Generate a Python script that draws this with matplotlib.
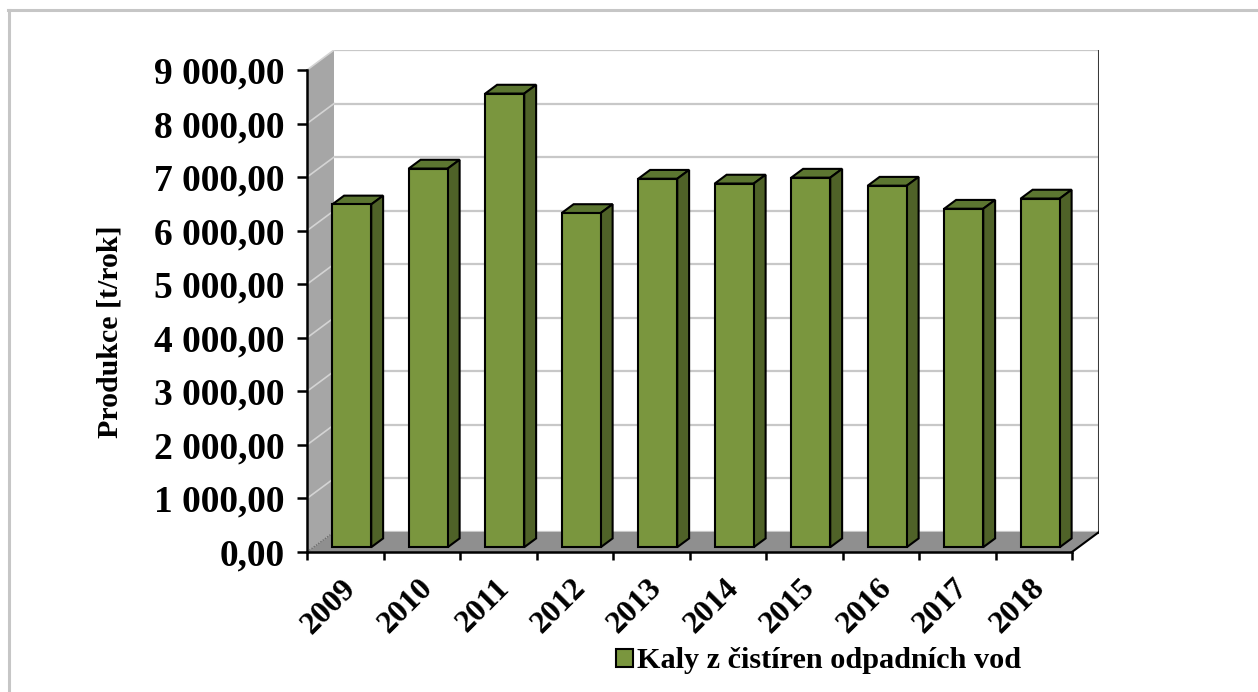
import matplotlib
matplotlib.use("Agg")
import matplotlib.pyplot as plt
from matplotlib.patches import Polygon
from matplotlib.lines import Line2D
from matplotlib.ticker import FuncFormatter
import numpy as np

# ---- data ----
years = ["2009", "2010", "2011", "2012", "2013", "2014", "2015", "2016", "2017", "2018"]
production = [6400, 7070, 8470, 6240, 6880, 6790, 6900, 6750, 6320, 6510]
series_name = "Kaly z čistíren odpadních vod"
y_label = "Produkce [t/rok]"
y_ticks = [0, 1000, 2000, 3000, 4000, 5000, 6000, 7000, 8000, 9000]

plt.rcParams['font.family'] = ['Liberation Serif', 'DejaVu Serif']
plt.rcParams['font.weight'] = 'bold'

W, H = 1258, 692
fig = plt.figure(figsize=(W / 100, H / 100), dpi=100)

# geometry (pixels)
front_left, front_right = 307, 1072
floor_y, top_y = 552, 70
depth_px_x, depth_px_y = 27, 20
n = len(years)
ymax = y_ticks[-1]
px_per_cat = (front_right - front_left) / n
px_per_val = (floor_y - top_y) / ymax
DX = depth_px_x / px_per_cat
DY = depth_px_y / px_per_val

ax = fig.add_axes([front_left / W, 1 - floor_y / H,
                   (front_right + depth_px_x - front_left) / W,
                   (floor_y - top_y + depth_px_y) / H])
ax.set_xlim(0, n + DX)
ax.set_ylim(0, ymax + DY)
ax.patch.set_visible(False)

# back wall gridlines
for v in y_ticks:
    ax.plot([DX, n + DX], [v + DY, v + DY], color='#c8c8c8', lw=1.6, zorder=1)
ax.plot([n + DX, n + DX], [DY, ymax + DY], color='#3a3a3a', lw=2.2, zorder=1.1)

# left wall
ax.add_patch(Polygon([(0, 0), (DX, DY), (DX, ymax + DY), (0, ymax)],
                     closed=True, fc='#a6a6a6', ec='none', zorder=1.2))
for v in y_ticks[1:]:
    ax.plot([0, DX], [v, v + DY], color='#d4d4d4', lw=1.2, zorder=1.25)
ax.plot([0, DX], [0, DY], color='#6e6e6e', lw=1.0, ls=(0, (1, 1)), zorder=1.4)

# floor
ax.add_patch(Polygon([(0, 0), (n, 0), (n + DX, DY), (DX, DY)],
                     closed=True, fc='#8f8f8f', ec='none', zorder=1.3))
ax.plot([n, n + DX], [0, DY], color='black', lw=1.5, zorder=1.5)

# bars
bw = 0.51
f0, fd = 0.24, 0.44
ox, oy = f0 * DX, f0 * DY
bdx, bdy = fd * DX, fd * DY
xc = np.arange(n) + 0.5 + ox
bars = ax.bar(xc, production, width=bw, bottom=oy, color='#7a963e',
              edgecolor='black', lw=1.5, zorder=4, label=series_name)
for x, v in zip(xc, production):
    l, r = x - bw / 2, x + bw / 2
    t = oy + v
    ax.add_patch(Polygon([(l, t), (r, t), (r + bdx, t + bdy), (l + bdx, t + bdy)],
                         closed=True, fc='#5c7631', ec='black', lw=1.5, zorder=3.9))
    ax.add_patch(Polygon([(r, oy), (r + bdx, oy + bdy), (r + bdx, t + bdy), (r, t)],
                         closed=True, fc='#4f6228', ec='black', lw=1.5, zorder=3.9))

# spines & ticks
for s in ['top', 'right']:
    ax.spines[s].set_visible(False)
ax.spines['left'].set_bounds(0, ymax)
ax.spines['bottom'].set_bounds(0, n)
for s in ['left', 'bottom']:
    ax.spines[s].set_linewidth(1.8)
    ax.spines[s].set_zorder(5)

ax.set_yticks(y_ticks)
ax.yaxis.set_major_formatter(FuncFormatter(
    lambda v, p: f"{v:,.2f}".replace(",", " ").replace(".", ",")))
ax.tick_params(axis='y', length=7, width=1.8, pad=9, labelsize=27)

ax.set_xticks(np.arange(n + 1))
ax.set_xticklabels([])
ax.tick_params(axis='x', which='major', length=6, width=1.8)
ax.set_xticks(xc, minor=True)
ax.set_xticklabels(years, minor=True, rotation=45, ha='right', va='center',
                   rotation_mode='anchor', fontsize=23, fontweight='bold')
ax.tick_params(axis='x', which='minor', length=0, pad=23)

fig.text(110 / W, 1 - 332 / H, y_label, rotation=90, ha='center', va='center',
         fontsize=21.5, fontweight='bold')

fig.legend(handles=[bars], labels=[series_name], loc='center left',
           bbox_to_anchor=(616 / W, 1 - 661 / H), frameon=False, fontsize=21.8,
           handlelength=0.55, handleheight=0.55, handletextpad=0.15,
           borderpad=0, borderaxespad=0)

# outer border
fig.add_artist(Line2D([9 / W, 9 / W], [0, 1 - 10 / H], transform=fig.transFigure,
                      color='#c6c6c6', lw=2.2))
fig.add_artist(Line2D([8 / W, 1], [1 - 10 / H, 1 - 10 / H], transform=fig.transFigure,
                      color='#c6c6c6', lw=2.2))

fig.savefig('out.png', dpi=100)
